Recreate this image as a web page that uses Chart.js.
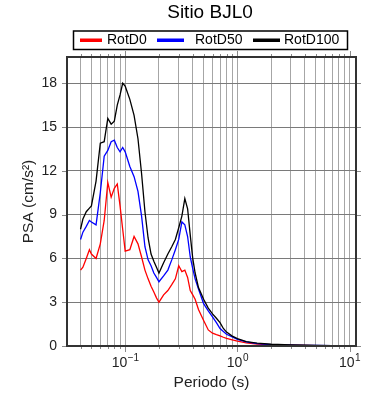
<!DOCTYPE html>
<html>
<head>
<meta charset="utf-8">
<script src="https://cdn.jsdelivr.net/npm/chart.js@4.4.1/dist/chart.umd.min.js"></script>
<style>
  html, body { margin: 0; padding: 0; background: #fff; }
  #wrap { width: 390px; height: 400px; }
</style>
</head>
<body>
<div id="wrap"><canvas id="psaChart" width="390" height="400"></canvas></div>
<script>
// periodos (s)
const periods = [0.04, 0.042, 0.045, 0.048, 0.05, 0.055, 0.06, 0.065, 0.07, 0.075,
    0.08, 0.085, 0.09, 0.095, 0.1, 0.11, 0.12, 0.13, 0.14, 0.15,
    0.16, 0.17, 0.18, 0.19, 0.2, 0.22, 0.24, 0.26, 0.28, 0.3,
    0.32, 0.34, 0.36, 0.38, 0.4, 0.42, 0.45, 0.5, 0.55, 0.6,
    0.65, 0.7, 0.75, 0.8, 0.9, 1.0, 1.2, 1.5, 2, 3,
    4, 5, 7, 10, 11];

// PSA (cm/s2) por componente
const rotD0 = [5.2, 5.4, 6.0, 6.6, 6.3, 6.0, 7.0, 8.6, 11.2, 10.2,
    10.8, 11.1, 9.6, 8.0, 6.5, 6.6, 7.5, 7.0, 6.1, 5.2,
    4.6, 4.1, 3.7, 3.3, 3.0, 3.5, 3.8, 4.2, 4.6, 5.5,
    5.1, 5.2, 4.7, 3.8, 3.5, 3.2, 2.5, 1.75, 1.1, 0.88,
    0.78, 0.7, 0.6, 0.52, 0.42, 0.33, 0.22, 0.13, 0.08, 0.05,
    0.04, 0.03, 0.025, 0.02, 0.02];
const rotD50 = [7.3, 7.8, 8.2, 8.6, 8.5, 8.3, 10.5, 13.0, 13.4, 14.0,
    14.1, 13.6, 13.3, 13.6, 13.3, 12.3, 11.6, 10.6, 8.9, 6.8,
    5.9, 5.5, 5.0, 4.7, 4.4, 4.8, 5.2, 5.9, 6.6, 7.3,
    8.5, 8.3, 7.5, 6.1, 5.3, 4.6, 3.9, 2.9, 2.4, 2.0,
    1.6, 1.2, 1.0, 0.8, 0.62, 0.45, 0.28, 0.16, 0.1, 0.06,
    0.045, 0.035, 0.025, 0.02, 0.02];
const rotD100 = [8.0, 8.7, 9.2, 9.45, 9.6, 11.3, 13.9, 14.0, 15.6, 15.2,
    15.4, 16.5, 17.2, 18.0, 17.8, 16.9, 15.8, 14.2, 11.8, 9.2,
    7.4, 6.3, 5.8, 5.4, 5.0, 5.7, 6.3, 6.8, 7.3, 8.1,
    8.9, 10.1, 9.4, 7.6, 6.0, 5.0, 4.0, 3.2, 2.6, 2.2,
    1.9, 1.6, 1.2, 0.95, 0.68, 0.5, 0.3, 0.2, 0.12, 0.07,
    0.05, 0.04, 0.03, 0.02, 0.02];

const seriesNames = ['RotD0', 'RotD50', 'RotD100'];
const seriesColors = ['#ff0000', '#0000ff', '#000000'];
const yTicks = [0, 3, 6, 9, 12, 15, 18];
const xDecades = [0.1, 1, 10];
const xDecadeExp = ['\u22121', '0', '1'];

const FONT = "'Liberation Sans', Arial, Helvetica, sans-serif";

// marcas menores del eje log
function logTicks(min, max) {
    const out = [];
    for (let e = -2; e <= 1; e++) {
        for (let m = 1; m <= 9; m++) {
            const v = m * Math.pow(10, e);
            if (v >= min && v <= max) out.push(v);
        }
    }
    return out;
}

// marco, marcas, etiquetas del eje x, titulo y leyenda
const decorPlugin = {
    id: 'decor',
    afterDraw(chart) {
        const ctx = chart.ctx;
        const a = chart.chartArea;
        const xs = chart.scales.x;
        const ys = chart.scales.y;
        ctx.save();

        // marcas del eje x (abajo y arriba)
        ctx.strokeStyle = '#8a8a8a';
        ctx.lineWidth = 1;
        xs.ticks.forEach(t => {
            const px = Math.round(xs.getPixelForValue(t.value)) + 0.5;
            const major = xDecades.some(d => Math.abs(d - t.value) < 1e-9);
            const len = major ? 6 : 3;
            ctx.beginPath();
            ctx.moveTo(px, a.bottom);
            ctx.lineTo(px, a.bottom + len);
            ctx.moveTo(px, a.top);
            ctx.lineTo(px, a.top - len);
            ctx.stroke();
        });
        // marcas del eje y (izquierda y derecha)
        yTicks.forEach(v => {
            const py = Math.round(ys.getPixelForValue(v)) + 0.5;
            ctx.beginPath();
            ctx.moveTo(a.left - 5, py);
            ctx.lineTo(a.left, py);
            ctx.moveTo(a.right, py);
            ctx.lineTo(a.right + 5, py);
            ctx.stroke();
        });

        // marco
        ctx.strokeStyle = '#333';
        ctx.lineWidth = 2;
        ctx.strokeRect(a.left, a.top, a.right - a.left, a.bottom - a.top);

        // etiquetas 10^n
        ctx.fillStyle = '#222';
        ctx.textBaseline = 'alphabetic';
        ctx.textAlign = 'left';
        xDecades.forEach((d, i) => {
            const px = xs.getPixelForValue(d);
            ctx.font = '14px ' + FONT;
            const wb = ctx.measureText('10').width;
            ctx.font = '10px ' + FONT;
            const we = ctx.measureText(xDecadeExp[i]).width;
            const x0 = px - (wb + we) / 2;
            ctx.font = '14px ' + FONT;
            ctx.fillText('10', x0, 367);
            ctx.font = '10px ' + FONT;
            ctx.fillText(xDecadeExp[i], x0 + wb + 0.5, 361);
        });

        // titulo
        ctx.font = '19px ' + FONT;
        ctx.textAlign = 'center';
        ctx.textBaseline = 'middle';
        ctx.fillStyle = '#000';
        ctx.fillText('Sitio BJL0', 210, 13);

        // leyenda con recuadro
        ctx.lineWidth = 1.5;
        ctx.strokeStyle = '#000';
        ctx.strokeRect(73.5, 31, 274, 18.5);
        const lineX = [80, 157, 253];
        const lineW = [22, 27, 27];
        const textX = [107, 195, 284];
        ctx.font = '14px ' + FONT;
        ctx.textAlign = 'left';
        ctx.textBaseline = 'middle';
        chart.data.datasets.forEach((ds, i) => {
            ctx.fillStyle = ds.borderColor;
            ctx.fillRect(lineX[i], 38.5, lineW[i], 3.5);
            ctx.fillStyle = '#000';
            ctx.fillText(ds.label, textX[i], 40.5);
        });
        ctx.restore();
    }
};

const ctx = document.getElementById('psaChart').getContext('2d');
new Chart(ctx, {
    type: 'line',
    data: {
        labels: periods,
        datasets: seriesNames.map((name, i) => ({
            label: name,
            data: [rotD0, rotD50, rotD100][i].map((v, k) => ({ x: periods[k], y: v })),
            borderColor: seriesColors[i],
            backgroundColor: seriesColors[i],
            borderWidth: 1.3,
            pointRadius: 0,
            tension: 0,
            fill: false,
            order: 2 - i
        }))
    },
    options: {
        responsive: false,
        animation: false,
        devicePixelRatio: 1,
        layout: { padding: { top: 57, right: 34, left: 0, bottom: 0 } },
        plugins: {
            legend: { display: false },
            title: { display: false },
            tooltip: { enabled: false }
        },
        scales: {
            x: {
                type: 'logarithmic',
                min: 0.0303,
                max: 11.4,
                afterBuildTicks: s => { s.ticks = logTicks(s.min, s.max).map(v => ({ value: v })); },
                afterFit: s => { s.height = 54; },
                ticks: { display: false },
                grid: { color: '#a6a6a6', lineWidth: 1, drawTicks: false },
                border: { display: false },
                title: {
                    display: true,
                    text: 'Periodo (s)',
                    color: '#222',
                    font: { family: FONT, size: 15.5 },
                    padding: { top: 0, bottom: 8 }
                }
            },
            y: {
                min: 0,
                max: 19.8,
                afterBuildTicks: s => { s.ticks = yTicks.map(v => ({ value: v })); },
                afterFit: s => { s.width = 67; },
                ticks: {
                    color: '#222',
                    font: { family: FONT, size: 14 },
                    padding: 10
                },
                grid: { color: '#7a7a7a', lineWidth: 1, drawTicks: false },
                border: { display: false },
                title: {
                    display: true,
                    text: 'PSA (cm/s\u00b2)',
                    color: '#222',
                    font: { family: FONT, size: 15.5 },
                    padding: { top: 19, bottom: 0 }
                }
            }
        }
    },
    plugins: [decorPlugin]
});
</script>
</body>
</html>
